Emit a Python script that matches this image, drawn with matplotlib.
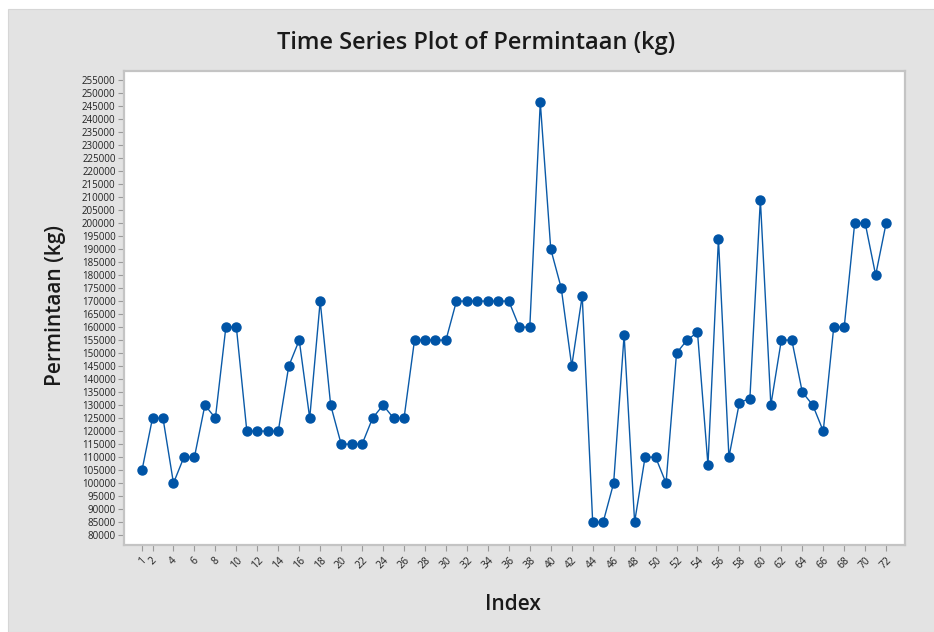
import matplotlib
matplotlib.use("Agg")
import matplotlib.pyplot as plt
from matplotlib.patches import Rectangle

# demand per period (kg)
index = list(range(1, 73))
permintaan = [
    105000, 125000, 125000, 100000, 110000, 110000, 130000, 125000, 160000, 160000,
    120000, 120000, 120000, 120000, 145000, 155000, 125000, 170000, 130000, 115000,
    115000, 115000, 125000, 130000, 125000, 125000, 155000, 155000, 155000, 155000,
    170000, 170000, 170000, 170000, 170000, 170000, 160000, 160000, 246500, 190000,
    175000, 145000, 172000, 85000, 85000, 100000, 157000, 85000, 110000, 110000,
    100000, 150000, 155000, 158000, 107000, 194000, 110000, 131000, 132500, 209000,
    130000, 155000, 155000, 135000, 130000, 120000, 160000, 160000, 200000, 200000,
    180000, 200000,
]
x_ticks = [1] + list(range(2, 73, 2))
y_ticks = list(range(80000, 255001, 5000))

plt.rcParams['font.family'] = ['Open Sans', 'DejaVu Sans']

fig = plt.figure(figsize=(9.34, 6.32), dpi=100)
fig.patch.set_facecolor('white')
# grey panel behind everything (leaves a thin white margin top/left)
fig.patches.append(Rectangle((8 / 934, 0), 1, 1 - 9 / 632, transform=fig.transFigure,
                             facecolor='#e3e3e3', edgecolor='#d6d6d6', lw=0.8, zorder=-10))

ax = fig.add_axes([124 / 934, 87 / 632, 781 / 934, 474 / 632])
ax.set_facecolor('white')
ax.plot(index, permintaan, color='#0a5aa8', lw=1.0, marker='o', markersize=6.5,
        markerfacecolor='#0054a6', markeredgecolor='#0054a6')

ax.set_xlim(-0.72, 73.8)
ax.set_ylim(76200, 258500)
ax.set_xticks(x_ticks)
ax.set_xticklabels([str(t) for t in x_ticks], rotation=45, ha='center', fontsize=7.5)
ax.set_yticks(y_ticks)
ax.set_yticklabels([str(t) for t in y_ticks], fontsize=7)
ax.tick_params(axis='both', color='#9a9a9a', length=4, width=0.8, labelcolor='#222222')
ax.tick_params(axis='y', pad=2)
ax.tick_params(axis='x', pad=3)

for s in ax.spines.values():
    s.set_color('#c4c4c4')
    s.set_linewidth(1.6)

fig.text(476 / 934, 1 - 43 / 632, 'Time Series Plot of Permintaan (kg)', ha='center',
         va='center', fontsize=17, fontweight='semibold', color='#1a1a1a')
fig.text(55 / 934, 1 - 305 / 632, 'Permintaan (kg)', rotation=90, ha='center', va='center',
         fontsize=15, fontweight='semibold', color='#1a1a1a')
fig.text(513 / 934, 1 - 605 / 632, 'Index', ha='center', va='center', fontsize=15,
         fontweight='semibold', color='#1a1a1a')

fig.savefig('out.png', dpi=100, facecolor=fig.get_facecolor())
